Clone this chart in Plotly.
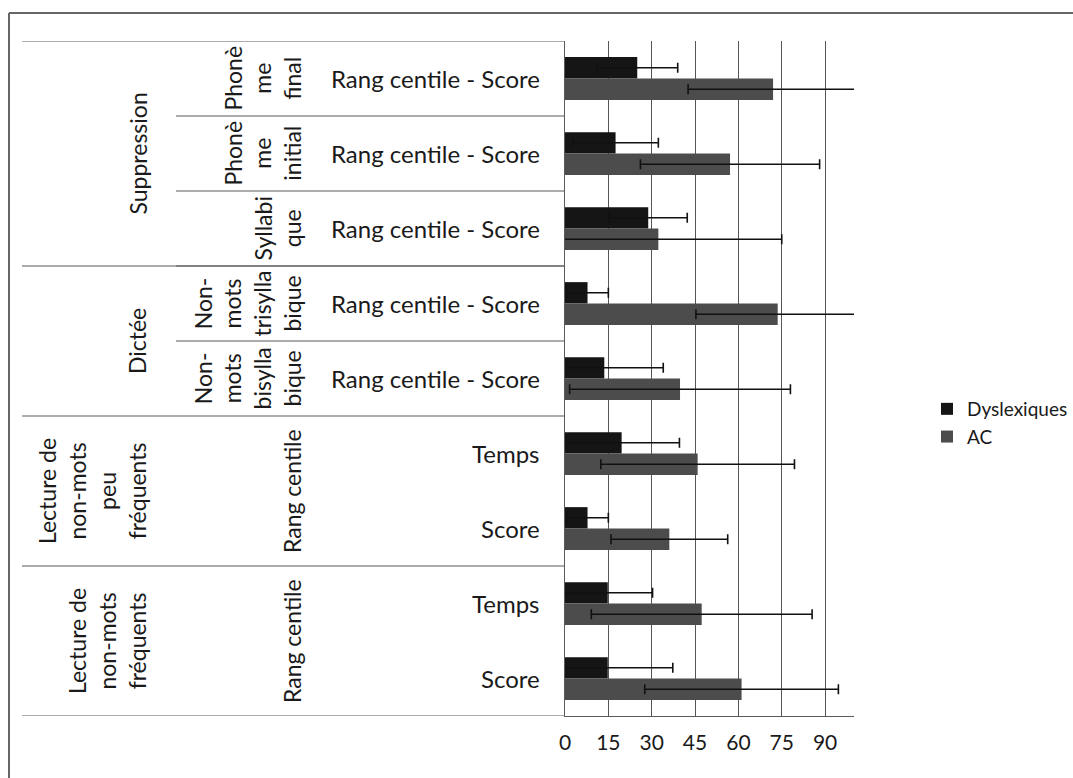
import plotly.graph_objects as go

# Rows listed top to bottom
row_labels = ["Rang centile - Score", "Rang centile - Score", "Rang centile - Score",
              "Rang centile - Score", "Rang centile - Score",
              "Temps", "Score", "Temps", "Score"]

# Second-level categories: (label, first row, last row)
sub_groups = [
    ("Phonè<br>me<br>final", 0, 0),
    ("Phonè<br>me<br>initial", 1, 1),
    ("Syllabi<br>que", 2, 2),
    ("Non-<br>mots<br>trisylla<br>bique", 3, 3),
    ("Non-<br>mots<br>bisylla<br>bique", 4, 4),
    ("Rang centile", 5, 6),
    ("Rang centile", 7, 8),
]

# Top-level categories: (label, first row, last row)
main_groups = [
    ("Suppression", 0, 2),
    ("Dictée", 3, 4),
    ("Lecture de<br>non-mots<br>peu<br>fréquents", 5, 6),
    ("Lecture de<br>non-mots<br>fréquents", 7, 8),
]

series_names = ["Dyslexiques", "AC"]
dys_mean = [25, 17.5, 28.8, 7.8, 13.6, 19.6, 7.8, 14.8, 14.8]
dys_sd = [14, 14.8, 13.5, 7.2, 20.4, 20, 7.2, 15.5, 22.5]
ac_mean = [72, 57.1, 32.3, 73.6, 39.8, 45.9, 36.1, 47.3, 61.1]
ac_sd = [29.4, 31, 42.7, 28.3, 38.2, 33.5, 20.2, 38.2, 33.5]

tick_vals = [0, 15, 30, 45, 60, 75, 90]

W, H = 1073, 778
L, R, T, B = 565, 854, 41, 716   # plot area in pixels
FONT = "Lato, 'Open Sans', sans-serif"
TXT = "#1a1a1a"
LINE = "#5a5a5a"
ROW_SIZE = 24
ROT_SIZE = 23


def px(xp):
    return (xp - L) / (R - L)


def py(yp):
    return (B - yp) / (B - T)


rows = list(range(len(row_labels)))

fig = go.Figure()
fig.add_trace(go.Bar(
    name=series_names[0], y=rows, x=dys_mean, orientation="h",
    marker=dict(color="#151515", line=dict(width=0)),
    error_x=dict(type="data", array=dys_sd, symmetric=True,
                 color="#111111", thickness=1.6, width=5),
))
fig.add_trace(go.Bar(
    name=series_names[1], y=rows, x=ac_mean, orientation="h",
    marker=dict(color="#4c4c4c", line=dict(width=0)),
    error_x=dict(type="data", array=ac_sd, symmetric=True,
                 color="#111111", thickness=1.6, width=5),
))

annotations = []
shapes = []

# Innermost labels, right aligned next to the axis
for i, lab in enumerate(row_labels):
    annotations.append(dict(
        x=px(542), xref="paper", y=i, yref="y", text=lab, showarrow=False,
        xanchor="right", yanchor="middle",
        font=dict(family=FONT, size=ROW_SIZE, color=TXT)))

# Second level labels (rotated)
for lab, a, b in sub_groups:
    annotations.append(dict(
        x=px(308), xref="paper", y=(a + b) / 2, yref="y", text=lab,
        showarrow=False, textangle=-90, xanchor="right", yanchor="middle",
        font=dict(family=FONT, size=ROT_SIZE, color=TXT)))
    if a == b and b < 4:
        shapes.append(dict(type="line", xref="paper", yref="y",
                           x0=px(176), x1=0, y0=b + 0.5, y1=b + 0.5,
                           line=dict(color=LINE, width=1.2)))

# Top level labels (rotated)
for lab, a, b in main_groups:
    annotations.append(dict(
        x=px(153), xref="paper", y=(a + b) / 2, yref="y", text=lab,
        showarrow=False, textangle=-90, xanchor="right", yanchor="middle",
        font=dict(family=FONT, size=ROT_SIZE, color=TXT)))
    shapes.append(dict(type="line", xref="paper", yref="y",
                       x0=px(22), x1=0, y0=a - 0.5, y1=a - 0.5,
                       line=dict(color=LINE, width=1.2)))
shapes.append(dict(type="line", xref="paper", yref="y",
                   x0=px(22), x1=0, y0=len(rows) - 0.5, y1=len(rows) - 0.5,
                   line=dict(color=LINE, width=1.2)))

# Outer frame (left and top edges)
shapes.append(dict(type="line", xref="paper", yref="paper",
                   x0=px(9), x1=px(9), y0=py(13), y1=py(790),
                   line=dict(color="#666666", width=2)))
shapes.append(dict(type="line", xref="paper", yref="paper",
                   x0=px(9), x1=px(1080), y0=py(13), y1=py(13),
                   line=dict(color="#666666", width=2)))

fig.update_layout(
    width=W, height=H,
    margin=dict(l=L, r=W - R, t=T, b=H - B, autoexpand=False),
    paper_bgcolor="white", plot_bgcolor="white",
    barmode="group", bargap=0.43, bargroupgap=0,
    showlegend=True,
    legend=dict(x=px(927), y=py(390), xanchor="left", yanchor="top",
                font=dict(family=FONT, size=19, color=TXT),
                bgcolor="rgba(0,0,0,0)", tracegroupgap=6),
    annotations=annotations, shapes=shapes,
)
fig.update_xaxes(range=[0, 100], tickvals=tick_vals, showgrid=True,
                 gridcolor="#555555", gridwidth=1, zeroline=False,
                 showline=True, linecolor=LINE, linewidth=1.2,
                 ticks="", ticklabelstandoff=8,
                 tickfont=dict(family=FONT, size=21, color=TXT))
fig.update_yaxes(range=[len(rows) - 0.5, -0.5], showticklabels=False,
                 showgrid=False, zeroline=False, showline=True,
                 linecolor=LINE, linewidth=1.2, ticks="")

fig.write_html("out.html")
